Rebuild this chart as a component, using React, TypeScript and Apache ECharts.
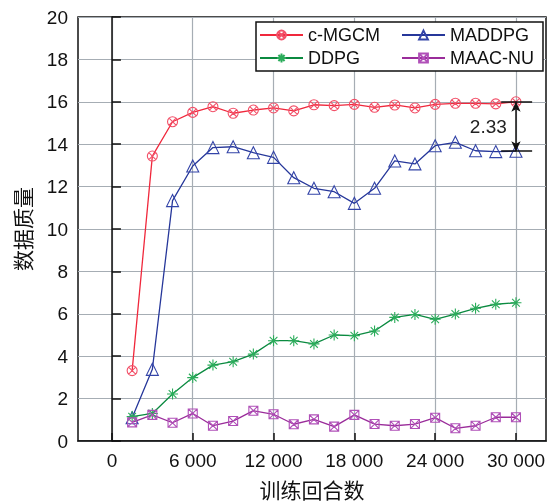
import React, { useEffect, useRef } from "react";
import * as echarts from "echarts";

const xValues = [1500, 3000, 4500, 6000, 7500, 9000, 10500, 12000, 13500, 15000, 16500, 18000, 19500, 21000, 22500, 24000, 25500, 27000, 28500, 30000];
const cMGCM = [3.32, 13.44, 15.06, 15.5, 15.77, 15.46, 15.61, 15.71, 15.57, 15.86, 15.82, 15.88, 15.74, 15.85, 15.71, 15.88, 15.93, 15.93, 15.9, 16.0];
const MADDPG = [1.1, 3.38, 11.34, 12.97, 13.84, 13.88, 13.6, 13.38, 12.42, 11.92, 11.76, 11.21, 11.92, 13.21, 13.07, 13.93, 14.09, 13.69, 13.65, 13.67];
const DDPG = [1.15, 1.3, 2.22, 2.99, 3.58, 3.74, 4.1, 4.73, 4.73, 4.58, 5.0, 4.97, 5.19, 5.83, 5.97, 5.74, 5.99, 6.26, 6.45, 6.52];
const MAACNU = [0.88, 1.23, 0.86, 1.3, 0.72, 0.94, 1.43, 1.26, 0.79, 1.02, 0.68, 1.23, 0.8, 0.72, 0.8, 1.1, 0.6, 0.72, 1.12, 1.12];

const xTickValues = [0, 6000, 12000, 18000, 24000, 30000];
const xTickLabels = ["0", "6 000", "12 000", "18 000", "24 000", "30 000"];
const gapLabel = "2.33";

const FONT = "'Liberation Sans', Arial, 'Noto Sans CJK SC', sans-serif";

const SYM_CIRCLE_X = "path://M1,0 A1,1 0 1,1 -1,0 A1,1 0 1,1 1,0 Z M-0.7,-0.7 L0.7,0.7 M-0.7,0.7 L0.7,-0.7";
const SYM_STAR = "path://M0,-1 L0,1 M-1,0 L1,0 M-0.7,-0.7 L0.7,0.7 M-0.7,0.7 L0.7,-0.7";
const SYM_SQUARE_X = "path://M-1,-1 L1,-1 L1,1 L-1,1 Z M-1,-1 L1,1 M1,-1 L-1,1";

function mk(name: string, vals: number[], color: string, markColor: string, symbol: string, size: number) {
  return {
    name,
    type: "line",
    data: xValues.map((x, i) => [x, vals[i]]),
    symbol,
    symbolSize: size,
    showAllSymbol: true,
    lineStyle: { color, width: 1.3 },
    itemStyle: { color: "rgba(0,0,0,0)", borderColor: markColor, borderWidth: 1.1 },
    emphasis: { disabled: true },
    z: 3,
  } as any;
}

export default function App() {
  const ref = useRef<HTMLDivElement>(null);
  useEffect(() => {
    if (!ref.current) return;
    const chart = echarts.init(ref.current, null, { renderer: "svg" });
    const top = cMGCM[cMGCM.length - 1];
    const bot = MADDPG[MADDPG.length - 1];
    const xLast = xValues[xValues.length - 1];
    const red = mk("c-MGCM", cMGCM, "#f0283c", "#f25068", SYM_CIRCLE_X, 10);
    red.markLine = {
      silent: true,
      animation: false,
      label: { show: false },
      lineStyle: { color: "#111", width: 1.5, type: "solid" },
      symbolSize: [7, 10],
      data: [
        [{ coord: [xLast, top], symbol: "arrow" }, { coord: [xLast, bot], symbol: "arrow" }],
        [{ coord: [xLast - 1100, top], symbol: "none" }, { coord: [xLast + 1200, top], symbol: "none" }],
        [{ coord: [xLast - 1100, bot], symbol: "none" }, { coord: [xLast + 1200, bot], symbol: "none" }],
      ],
    };
    red.markPoint = {
      silent: true,
      symbol: "circle",
      symbolSize: 0,
      label: { show: true, position: "inside", formatter: gapLabel, fontSize: 19, color: "#222", fontFamily: FONT },
      data: [{ coord: [xLast - 2050, (top + bot) / 2] }],
    };
    const option: any = {
      animation: false,
      textStyle: { fontFamily: FONT },
      grid: {
        left: 78, right: 7, top: 17, bottom: 62,
        outerBoundsMode: "none",
        show: true, borderColor: "#111", borderWidth: 1.5, backgroundColor: "transparent",
      },
      legend: {
        left: 256,
        top: 22,
        width: 290,
        data: ["c-MGCM", "MADDPG", "DDPG", "MAAC-NU"],
        itemWidth: 43,
        itemHeight: 11,
        itemGap: 3,
        padding: [3, 3, 3, 3],
        borderColor: "#111",
        borderWidth: 1.5,
        backgroundColor: "#fff",
        textStyle: { fontSize: 18, color: "#111", width: 90, lineHeight: 20, fontFamily: FONT },
        selectedMode: false,
      },
      xAxis: {
        type: "value",
        min: -2520,
        max: 32230,
        name: "训练回合数",
        nameLocation: "middle",
        nameGap: 39,
        nameTextStyle: { fontSize: 21, color: "#111", fontFamily: FONT },
        axisLine: { show: true, onZero: false, lineStyle: { color: "#111", width: 1.5 } },
        axisTick: { show: true, inside: true, length: 8, customValues: xTickValues, lineStyle: { color: "#111", width: 1.5 } },
        axisLabel: {
          customValues: xTickValues,
          fontSize: 19,
          color: "#111",
          margin: 10,
          formatter: (v: number) => xTickLabels[xTickValues.indexOf(v)] ?? String(v),
        },
        splitLine: { show: true, lineStyle: { color: "#a6adb4", width: 1.2 } },
      },
      yAxis: {
        type: "value",
        min: 0,
        max: 20,
        interval: 2,
        name: "数据质量",
        nameLocation: "middle",
        nameGap: 44,
        nameTextStyle: { fontSize: 21, color: "#111", fontFamily: FONT },
        axisLine: { show: true, lineStyle: { color: "#111", width: 1.5 } },
        axisTick: { show: true, inside: true, length: 9, lineStyle: { color: "#111", width: 1.5 } },
        axisLabel: { fontSize: 19, color: "#111", margin: 10 },
        splitLine: { show: true, lineStyle: { color: "#a6adb4", width: 1.2 } },
      },
      series: [
        red,
        mk("MADDPG", MADDPG, "#26379a", "#3344a8", "triangle", 12),
        mk("DDPG", DDPG, "#0b8a40", "#2aac5a", SYM_STAR, 11),
        mk("MAAC-NU", MAACNU, "#9a2c9a", "#b050b8", SYM_SQUARE_X, 9),
      ],
    };
    chart.setOption(option);
    return () => chart.dispose();
  }, []);
  return <div ref={ref} style={{ position: "fixed", left: 0, top: 0, width: 553, height: 503 }} />;
}
